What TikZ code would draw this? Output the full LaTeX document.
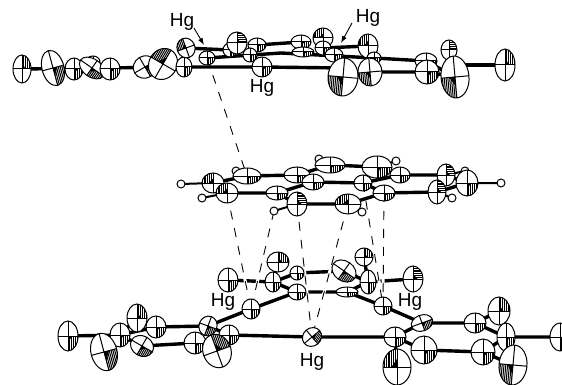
\documentclass[tikz,border=0pt]{standalone}
\usepackage{fontspec}
\setmainfont{Liberation Sans}
\usetikzlibrary{arrows.meta}
\tikzset{
  bond/.style={line width=3.4pt,line cap=butt},
  hbond/.style={line width=2pt},
  contact/.style={line width=0.9pt,dash pattern=on 9pt off 9pt},
  contactgap/.style={line width=3pt,white},
  outline/.style={line width=1pt},
  hatchline/.style={line width=1pt},
  label/.style={font=\fontsize{19}{21}\selectfont,inner sep=0pt},
  pointer/.style={line width=0.9pt,-{Latex[length=7pt,width=5pt]}}
}
\def\topatoms{a1/22/69/-9/14/180,a2/53/68/11/18/15,a3/74/69/9/11/0,a4b/93/62/7/6/0,a4/92/68/14/9/-35,a5/110/69/10/11/0,a6/145/67/12/11/30,a7/163/64/14/16/150,a8/184/67/8/10/0,a9/186/48/9/10/200,a10/207/58/8/7/0,a12/230/50/7/7/0,a11/237/43/11/10/90,a13/257/45/9/7/0,a14/250/55/7/7/0,a15/262/67/10/10/0,b3/323/38/10/10/180,b1/301/42/10/7/0,b2/303/52/11/5/0,b4/323/48/8/7/0,b5/334/55/9/7/0,b6/368/46/10/12/180,b8b/374/58/7/6/0,b7/343/77/-15/19/-5,b8/370/72/-12/14/5,b10/449/50/10/8/90,b9t/426/61/11/8/0,b9/427/72/12/12/0,b11/455/77/-14/21/5,b12/505/65/-10/16/180}
\def\midatoms{m6/330/165/15/8/0,m7/377/167/15/11/0,m3/247/176/14/8/0,m5/297/175/13/8/0,m8/400/175/10/8/0,m15/446/175/11/9/90,m9/313/182/11/8/0,m10/363/183/9/8/0,m2/213/183/11/10/180,m4/227/193/11/10/180,m11/277/193/11/7/0,m14/384/193/11/8/0,m12/297/204/12/10/90,m13/348/204/13/10/180,m16/437/192/12/9/90,m17/467/183/11/13/0}
\def\lowatoms{c1/68/336/10/15/0,c12/228/280/10/12/0,c3/120/335/10/12/0,c4/137/318/-10/14/180,c5/156/327/10/11/0,c6/142/346/12/10/-30,c2/104/352/13/19/15,c7/195/343/11/11/0,c8/208/326/9/10/-20,c9/229/335/10/10/0,c10/217/351/-14/17/200,c11/251/309/9/10/0,c14/278/262/-11/10/180,c13/273/282/8/10/0,c15/297/273/7/7/0,c16/297/292/9/8/0,hgb/312/337/10/9/40,d3/364/257/-9/9/180,d2/344/271/13/10/-35,d4/368/282/8/12/0,d5/347/292/11/5/0,d6/413/279/13/10/90,d7/383/306/9/9/0,d8/422/323/11/8/20,d9/395/337/11/10/0,d11/397/367/14/18/180,d10/424/350/13/14/0,d12/475/323/11/10/0,d13/499/311/-11/14/180,d14/506/337/9/14/0,d15/483/352/12/13/0,d16/513/365/-14/20/-5,d17/560/337/10/14/0}
\newcommand{\atomlist}[1]{%
  \foreach \n/\px/\py/\ra/\rb/\ang in #1 {%
    \begin{scope}[shift={(\px,\py)},rotate=\ang]
      \fill[white] (0,0) ellipse [x radius=\ra,y radius=\rb];
      \pgfmathsetmacro{\sg}{sign(\ra)}
      \begin{scope}
        \clip (0,0) ellipse [x radius=\ra,y radius=\rb];
        \clip (0,0) rectangle (\ra,\rb);
        \foreach \k in {0,...,12} {\draw[hatchline] ({\k*1.8*\sg},0) -- ({\k*1.8*\sg},\rb);}
        \fill (0,0) -- ({0.4*\ra},0) -- (0,{0.45*\rb}) -- cycle;
      \end{scope}
      \draw[outline] (-\ra,0) -- (\ra,0) (0,-\rb) -- (0,\rb);
      \draw[outline] (0,0) ellipse [x radius=\ra,y radius=\rb];
    \end{scope}
  }%
}
\newcommand{\atomcoords}[1]{\foreach \n/\px/\py/\ra/\rb/\ang in #1 {\coordinate (\n) at (\px,\py);}}
\begin{document}
\begin{tikzpicture}[x=1pt,y=-1pt]
\useasboundingbox (0,0) rectangle (562,385);
\atomcoords{\topatoms}\atomcoords{\midatoms}\atomcoords{\lowatoms}
% hydrogen positions
\coordinate (h1) at (181,184); \coordinate (h2) at (202,198); \coordinate (h3) at (274,211);
\coordinate (h4) at (362,212); \coordinate (h5) at (396,161); \coordinate (h6) at (452,198);
\coordinate (h7) at (501,183); \coordinate (h8) at (236,171); \coordinate (h9) at (319,159); \coordinate (h10) at (465,171);
% bend points of the top molecule
\coordinate (t1) at (343,68); \coordinate (t2) at (281,53); \coordinate (t3) at (455,65);
% contacts
\draw[contact] (a10) -- (m3);
\draw[contact] (m4) -- (c11);
\draw[contact] (h3) -- (c11);
\draw[contact] (m12) -- (hgb);
\draw[contact] (m13) -- (hgb);
\draw[contact] (m10) -- (d7);
\draw[contact] (m14) -- (d7);
% top molecule
\draw[bond] (a1) -- (a8) -- (a15) -- (t1);
\draw[bond] (a8) -- (a9) -- (a12);
\draw[bond] (a13) -- (b1) (b4) -- (b6);
\draw[bond] (a10) -- (t2) -- (b8b);
\draw[bond] (b8) -- (b9) (b8b) -- (b9t) -- (b11) (b9) -- (b11);
\draw[bond] (t3) -- (b12);
\draw[bond] (b10) -- (b11);
\draw[bond] (a4b) -- (a3);
\atomlist{\topatoms}
% middle molecule
\draw[hbond] (h1) -- (m2) (m4) -- (h2) (m12) -- (h3) (m13) -- (h4) (m7) -- (h5) (m16) -- (h6) (m17) -- (h7) (m3) -- (h8) (m6) -- (h9) (m15) -- (h10);
\draw[bond] (m2) -- (m3) -- (m5) -- (m6) -- (m7) -- (m8) -- (m15) -- (m17) -- (m16) -- (m14) -- (m13) -- (m12) -- (m11) -- (m4) -- (m2);
\draw[bond] (m5) -- (m9) -- (m10) -- (m8) (m9) -- (m11) (m10) -- (m14);
\foreach \hn in {h1,h2,h3,h4,h5,h6,h7,h8,h9,h10} {\fill[white,draw=black,outline] (\hn) circle [radius=4];}
\atomlist{\midatoms}
% bottom molecule
\draw[bond] (c1) -- (c3) -- (c5) -- (c8) -- (c11) -- (c16) -- (d5) -- (d7) -- (d8) -- (d12) -- (d14) -- (d17);
\draw[bond] (c3) -- (c6) -- (c7) -- (c9) -- (hgb) -- (d9) -- (d10) -- (d15) -- (d14);
\draw[bond] (c8) -- (c9) (c3) -- (c2) (c3) -- (c4) (c7) -- (c10);
\draw[bond] (c12) -- (c13) -- (c15) -- (d2) -- (d4) -- (d5) (c13) -- (c14) (c13) -- (c16);
\draw[bond] (d3) -- (d4) -- (d6) (d9) -- (d8) (d9) -- (d11) (d12) -- (d13) (d15) -- (d16);
\begin{scope}
  \clip (225,268) rectangle (400,296);
  \draw[contactgap] (m4) -- (c11) (h3) -- (c11) (m12) -- (hgb) (m13) -- (hgb) (m10) -- (d7) (m14) -- (d7);
  \draw[contact] (m4) -- (c11);
  \draw[contact] (h3) -- (c11);
  \draw[contact] (m12) -- (hgb);
  \draw[contact] (m13) -- (hgb);
  \draw[contact] (m10) -- (d7);
  \draw[contact] (m14) -- (d7);
\end{scope}
\atomlist{\lowatoms}
% labels
\node[label] (l1) at (182,22) {Hg};
\node[label] (l2) at (368,18) {Hg};
\node[label] (l3) at (262,88) {Hg};
\node[label] (l4) at (223,302) {Hg};
\node[label] (l5) at (410,302) {Hg};
\node[label] (l6) at (312,362) {Hg};
\coordinate (t1s) at (194,28); \coordinate (t1e) at (204,45);
\coordinate (t2s) at (352,23); \coordinate (t2e) at (341,43);
\draw[pointer] (t1s) -- (t1e);
\draw[pointer] (t2s) -- (t2e);
\end{tikzpicture}
\end{document}
